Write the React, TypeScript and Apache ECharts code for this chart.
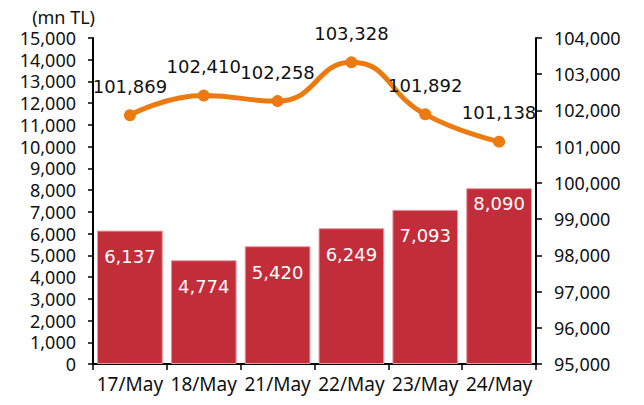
import React, { useEffect, useRef } from "react";
import * as echarts from "echarts";

const categories = ["17/May", "18/May", "21/May", "22/May", "23/May", "24/May"];
const barValues = [6137, 4774, 5420, 6249, 7093, 8090];
const lineValues = [101869, 102410, 102258, 103328, 101892, 101138];
const barLabelDistances = [17, 17, 17, 17, 17, 6];

const FONT = "Noto Sans";
const LFONT = "DejaVu Sans";
const FS = 18;
const fmt = (v: number) => v.toLocaleString("en-US");

export default function App() {
  const ref = useRef<HTMLDivElement>(null);
  useEffect(() => {
    if (!ref.current) return;
    const chart = echarts.init(ref.current, null, { renderer: "svg" });
    chart.setOption({
      animation: false,
      textStyle: { fontFamily: FONT },
      grid: { left: 93, right: 108, top: 38, bottom: 41 },
      xAxis: {
        type: "category",
        data: categories,
        axisLine: { lineStyle: { color: "#000", width: 2 } },
        axisTick: { show: true, length: 6, interval: 0, lineStyle: { color: "#000", width: 1.5 } },
        axisLabel: { color: "#111", fontSize: 19, margin: 10, interval: 0, fontFamily: FONT },
      },
      yAxis: [
        {
          type: "value",
          min: 0,
          max: 15000,
          interval: 1000,
          name: "(mn TL)",
          nameGap: 12,
          nameTextStyle: { color: "#111", fontSize: FS, align: "right", padding: [0, -2, 0, 0], fontFamily: FONT },
          axisLine: { show: true, lineStyle: { color: "#000", width: 2 } },
          axisTick: { show: true, length: 5, lineStyle: { color: "#000", width: 1.5 } },
          axisLabel: { color: "#111", fontSize: FS, margin: 17, formatter: (v: number) => fmt(v), fontFamily: FONT },
          splitLine: { show: false },
        },
        {
          type: "value",
          min: 95000,
          max: 104000,
          interval: 1000,
          position: "right",
          axisLine: { show: true, lineStyle: { color: "#000", width: 2 } },
          axisTick: { show: true, length: 6, lineStyle: { color: "#000", width: 1.5 } },
          axisLabel: { color: "#111", fontSize: FS, margin: 18, formatter: (v: number) => fmt(v), fontFamily: FONT },
          splitLine: { show: false },
        },
      ],
      series: [
        {
          type: "bar",
          yAxisIndex: 0,
          barCategoryGap: "11%",
          data: barValues.map((v, i) => ({
            value: v,
            label: { distance: barLabelDistances[i] },
          })),
          itemStyle: { color: "#C22D3A", borderColor: "#E49AA0", borderWidth: 1 },
          label: {
            show: true,
            position: "insideTop",
            color: "#fff",
            fontSize: FS,
            fontFamily: LFONT,
            formatter: (p: any) => fmt(p.value),
          },
        },
        {
          type: "line",
          yAxisIndex: 1,
          data: lineValues,
          smooth: 0.5,
          symbol: "circle",
          symbolSize: 12,
          lineStyle: { color: "#EB7A10", width: 5 },
          itemStyle: { color: "#EB7A10" },
          label: {
            show: true,
            position: "top",
            distance: 14,
            color: "#111",
            fontSize: FS,
            fontFamily: LFONT,
            formatter: (p: any) => fmt(p.value),
          },
        },
      ],
    });
    return () => chart.dispose();
  }, []);
  return <div ref={ref} style={{ width: 644, height: 405, margin: -8 }} />;
}
